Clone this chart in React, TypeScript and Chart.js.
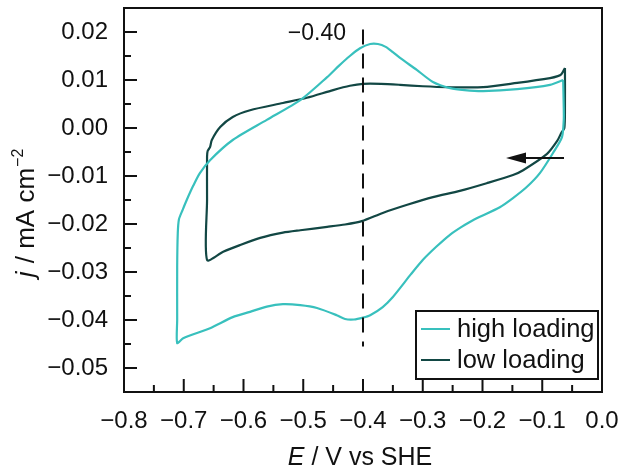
import React, { useEffect, useRef } from 'react';
import { Chart, registerables } from 'chart.js';

Chart.register(...registerables);

// ---- data ----
const xTicks = [-0.8, -0.7, -0.6, -0.5, -0.4, -0.3, -0.2, -0.1, 0.0];
const yTicks = [0.02, 0.01, 0.0, -0.01, -0.02, -0.03, -0.04, -0.05];

const highE = [
  -0.065, -0.064, -0.064, -0.067, -0.082, -0.104, -0.126, -0.149, -0.171, -0.216,
  -0.235, -0.254, -0.277, -0.300, -0.320, -0.350, -0.367, -0.388, -0.400, -0.415,
  -0.430, -0.444, -0.477, -0.505, -0.534, -0.561, -0.589, -0.618, -0.656, -0.701, -0.711,
  -0.711, -0.711, -0.710, -0.708, -0.702, -0.695, -0.684, -0.673, -0.656, -0.618,
  -0.561, -0.505, -0.460, -0.440, -0.422, -0.405, -0.388, -0.375, -0.362, -0.350,
  -0.338, -0.310, -0.283, -0.254, -0.230, -0.199, -0.142, -0.087, -0.065,
];
const highJ = [
  0.0100, 0.0040, 0.0017, -0.0019, -0.0052, -0.0094, -0.0123, -0.0146, -0.0165, -0.0192,
  -0.0206, -0.0222, -0.0247, -0.0275, -0.0305, -0.0352, -0.0373, -0.0390, -0.0395, -0.0399,
  -0.0398, -0.0390, -0.0375, -0.0369, -0.0367, -0.0372, -0.0383, -0.0394, -0.0417, -0.0438, -0.0448,
  -0.0400, -0.0290, -0.0219, -0.0190, -0.0171, -0.0150, -0.0120, -0.0094, -0.0067, -0.0025,
  0.0017, 0.0058, 0.0106, 0.0130, 0.0150, 0.0166, 0.0175, 0.0175, 0.0169, 0.0158,
  0.0146, 0.0121, 0.0096, 0.0083, 0.0079, 0.0077, 0.0081, 0.0090, 0.0100,
];

const lowE = [
  -0.062, -0.062, -0.063, -0.068, -0.075, -0.092, -0.132, -0.149, -0.193, -0.238,
  -0.283, -0.326, -0.367, -0.402, -0.430, -0.460, -0.505, -0.534, -0.572, -0.606, -0.634, -0.661,
  -0.661, -0.661, -0.660, -0.656, -0.653, -0.639, -0.618, -0.589, -0.534, -0.494,
  -0.450, -0.422, -0.400, -0.370, -0.338, -0.300, -0.259, -0.199, -0.142, -0.087,
  -0.074, -0.068, -0.062,
];
const lowJ = [
  0.0125, 0.0040, 0.0000, -0.0010, -0.0027, -0.0054, -0.0088, -0.0098, -0.0115, -0.0131,
  -0.0144, -0.0160, -0.0177, -0.0194, -0.0201, -0.0206, -0.0213, -0.0218, -0.0229, -0.0244, -0.0258, -0.0275,
  -0.0150, -0.0060, -0.0048, -0.0040, -0.0025, 0.0002, 0.0023, 0.0037, 0.0052, 0.0063,
  0.0079, 0.0088, 0.0092, 0.0092, 0.0090, 0.0087, 0.0085, 0.0085, 0.0094, 0.0104,
  0.0108, 0.0112, 0.0125,
];

const seriesNames = ['high loading', 'low loading'];
const seriesColors = ['#38c0bd', '#124744'];

const markerE = -0.4;
const markerLabel = '\u22120.40';
const markerSpan = [0.0205, -0.0455];
const arrowE = [-0.0636, -0.1607];
const arrowJ = -0.00625;

const FONT = '"Liberation Sans", Arial, sans-serif';
const minus = (s: string) => s.replace('-', '\u2212');

const deco = {
  id: 'deco',
  afterDatasetsDraw(chart: any) {
    const { ctx, chartArea: a, scales } = chart;
    const x = scales.x;
    const y = scales.y;
    ctx.save();
    ctx.strokeStyle = '#111';
    ctx.fillStyle = '#111';
    ctx.lineWidth = 2;

    // dashed marker
    const mx = Math.round(x.getPixelForValue(markerE));
    ctx.setLineDash([15, 9]);
    ctx.beginPath();
    ctx.moveTo(mx, y.getPixelForValue(markerSpan[0]));
    ctx.lineTo(mx, y.getPixelForValue(markerSpan[1]));
    ctx.stroke();
    ctx.setLineDash([]);

    // frame
    ctx.strokeRect(a.left, a.top, a.right - a.left, a.bottom - a.top);

    // ticks (inward)
    ctx.beginPath();
    for (let i = 0; i < xTicks.length; i++) {
      const px = x.getPixelForValue(xTicks[i]);
      ctx.moveTo(px, a.bottom);
      ctx.lineTo(px, a.bottom - 13);
      if (i < xTicks.length - 1) {
        const pm = x.getPixelForValue((xTicks[i] + xTicks[i + 1]) / 2);
        ctx.moveTo(pm, a.bottom);
        ctx.lineTo(pm, a.bottom - 7);
      }
    }
    for (let i = 0; i < yTicks.length; i++) {
      const py = y.getPixelForValue(yTicks[i]);
      ctx.moveTo(a.left, py);
      ctx.lineTo(a.left + 13, py);
      const pm = y.getPixelForValue(yTicks[i] - 0.005);
      if (pm < a.bottom - 2) {
        ctx.moveTo(a.left, pm);
        ctx.lineTo(a.left + 7, pm);
      }
    }
    const pTop = y.getPixelForValue(yTicks[0] + 0.005);
    if (pTop > a.top + 2) { ctx.moveTo(a.left, pTop); ctx.lineTo(a.left + 7, pTop); }
    ctx.stroke();

    // arrow
    const ax0 = x.getPixelForValue(arrowE[0]);
    const ax1 = x.getPixelForValue(arrowE[1]);
    const ay = y.getPixelForValue(arrowJ);
    ctx.beginPath();
    ctx.moveTo(ax0, ay);
    ctx.lineTo(ax1 + 15, ay);
    ctx.stroke();
    ctx.beginPath();
    ctx.moveTo(ax1, ay);
    ctx.lineTo(ax1 + 20, ay - 5.5);
    ctx.lineTo(ax1 + 20, ay + 5.5);
    ctx.closePath();
    ctx.fill();

    // marker label
    ctx.font = `23px ${FONT}`;
    ctx.textAlign = 'right';
    ctx.textBaseline = 'alphabetic';
    ctx.fillText(markerLabel, mx - 17, 40);

    // legend
    const lx = 416, ly = 311, lw = 182, lh = 68;
    ctx.fillStyle = '#fff';
    ctx.fillRect(lx, ly, lw, lh);
    ctx.strokeStyle = '#111';
    ctx.strokeRect(lx, ly, lw, lh);
    ctx.font = `25.5px ${FONT}`;
    ctx.textAlign = 'left';
    ctx.textBaseline = 'middle';
    for (let i = 0; i < seriesNames.length; i++) {
      const yy = ly + 18 + i * 31;
      ctx.strokeStyle = seriesColors[i];
      ctx.beginPath();
      ctx.moveTo(lx + 5, yy);
      ctx.lineTo(lx + 34, yy);
      ctx.stroke();
      ctx.fillStyle = '#111';
      ctx.fillText(seriesNames[i], lx + 41, yy + 1);
    }

    // x title
    ctx.textBaseline = 'alphabetic';
    ctx.textAlign = 'left';
    const it = `italic 25px ${FONT}`;
    const nt = `25px ${FONT}`;
    ctx.font = it; const w1 = ctx.measureText('E').width;
    ctx.font = nt; const w2 = ctx.measureText(' / V vs SHE').width;
    const sx = (a.left + a.right) / 2 - (w1 + w2) / 2 - 3;
    ctx.font = it; ctx.fillText('E', sx, 465);
    ctx.font = nt; ctx.fillText(' / V vs SHE', sx + w1, 465);

    // y title
    ctx.save();
    ctx.translate(34, 214);
    ctx.rotate(-Math.PI / 2);
    const yit = `italic 26px ${FONT}`;
    const ynt = `26px ${FONT}`;
    const st = `16px ${FONT}`;
    ctx.font = yit; const v1 = ctx.measureText('j').width;
    ctx.font = ynt; const v2 = ctx.measureText(' / mA cm').width;
    ctx.font = st; const v3 = ctx.measureText('\u22122').width;
    const s0 = -(v1 + v2 + v3) / 2;
    ctx.font = yit; ctx.fillText('j', s0, 0);
    ctx.font = ynt; ctx.fillText(' / mA cm', s0 + v1 + 1, 0);
    ctx.font = st; ctx.fillText('\u22122', s0 + v1 + v2 + 2, -11);
    ctx.restore();

    ctx.restore();
  },
};

export default function App() {
  const ref = useRef<HTMLCanvasElement | null>(null);
  useEffect(() => {
    if (!ref.current) return;
    const chart = new Chart(ref.current, {
      type: 'line',
      data: {
        datasets: [
          {
            label: seriesNames[0],
            data: highE.map((e, i) => ({ x: e, y: highJ[i] })),
            borderColor: seriesColors[0],
            borderWidth: 2.2,
            pointRadius: 0,
            tension: 0.25,
            fill: false,
          },
          {
            label: seriesNames[1],
            data: lowE.map((e, i) => ({ x: e, y: lowJ[i] })),
            borderColor: seriesColors[1],
            borderWidth: 2.2,
            pointRadius: 0,
            tension: 0.25,
            fill: false,
          },
        ],
      },
      options: {
        animation: false,
        responsive: false,
        devicePixelRatio: 1,
        layout: { padding: { left: 0, top: 8, right: 17, bottom: 0 } },
        plugins: { legend: { display: false }, tooltip: { enabled: false } },
        scales: {
          x: {
            type: 'linear',
            min: -0.8,
            max: 0,
            grid: { display: false, drawTicks: false },
            border: { display: false },
            afterFit: (s: any) => {
              s.height = 75;
              s.paddingLeft = 0; s.paddingRight = 0; s.paddingTop = 0; s.paddingBottom = 0;
            },
            afterBuildTicks: (s: any) => { s.ticks = xTicks.map((v) => ({ value: v })); },
            ticks: {
              padding: 15,
              color: '#111',
              font: { family: FONT, size: 24 },
              maxRotation: 0,
              callback: (v: any) => minus(Number(v).toFixed(1)),
            },
          },
          y: {
            type: 'linear',
            min: -0.055,
            max: 0.025,
            grid: { display: false, drawTicks: false },
            border: { display: false },
            afterFit: (s: any) => {
              s.width = 124;
              s.paddingLeft = 0; s.paddingRight = 0; s.paddingTop = 0; s.paddingBottom = 0;
            },
            afterBuildTicks: (s: any) => { s.ticks = yTicks.map((v) => ({ value: v })); },
            ticks: {
              padding: 16,
              color: '#111',
              font: { family: FONT, size: 24 },
              callback: (v: any) => minus(Number(v).toFixed(2)),
            },
          },
        },
      },
      plugins: [deco],
    } as any);
    return () => chart.destroy();
  }, []);
  return (
    <canvas
      ref={ref}
      width={619}
      height={467}
      style={{ position: 'absolute', left: 0, top: 0, width: 619, height: 467 }}
    />
  );
}
